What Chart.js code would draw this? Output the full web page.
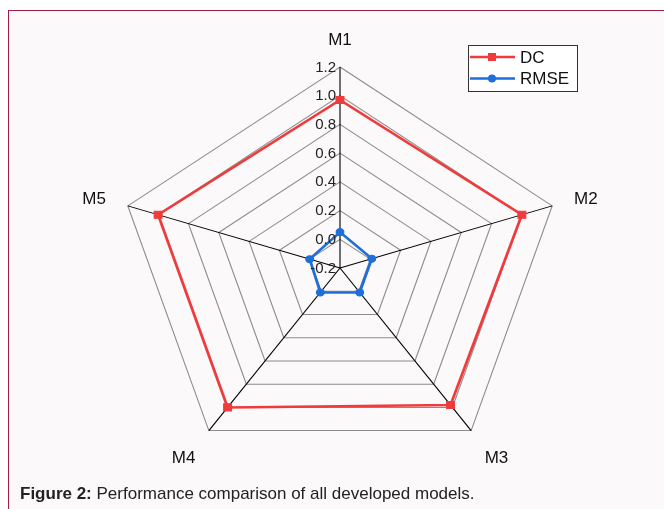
<!DOCTYPE html>
<html>
<head>
<meta charset="utf-8">
<script src="https://cdn.jsdelivr.net/npm/chart.js@4.4.0/dist/chart.umd.min.js"></script>
<style>
  html, body { margin: 0; padding: 0; background: #ffffff; }
  body { width: 664px; height: 509px; position: relative; overflow: hidden; font-family: "Liberation Sans", Arial, sans-serif; }
  #frame { position: absolute; left: 8px; top: 10px; width: 700px; height: 520px; background: #fbf9fa; border: 1.5px solid #a31d42; box-sizing: border-box; }
  #chartWrap { position: absolute; left: 0; top: 0; width: 664px; height: 509px; }
  #caption { position: absolute; left: 20px; top: 484px; font-size: 17px; color: #222; white-space: nowrap; }
</style>
</head>
<body>
<div id="frame"></div>
<div id="chartWrap"><canvas id="radarChart" width="664" height="509"></canvas></div>
<div id="caption"><b>Figure 2:</b> Performance comparison of all developed models.</div>
<script>
const models = ['M1', 'M2', 'M3', 'M4', 'M5'];
const dcValues = [0.97, 1.0, 0.98, 1.0, 1.0];
const rmseValues = [0.05, 0.01, 0.01, 0.01, 0.0];
const scaleMin = -0.2;
const scaleMax = 1.2;
const scaleStep = 0.2;

// the original plot is a bit wider than tall
const stretchX = 1.11;

const stretchPlugin = {
    id: 'stretch',
    beforeDraw(chart) {
        const s = chart.scales.r;
        const ctx = chart.ctx;
        ctx.save();
        ctx.translate(s.xCenter, 0);
        ctx.scale(stretchX, 1);
        ctx.translate(-s.xCenter, 0);
    },
    afterDatasetsDraw(chart) {
        chart.ctx.restore();
    },
    afterDraw(chart) {
        const s = chart.scales.r;
        const ctx = chart.ctx;
        const xc = s.xCenter, yc = s.yCenter, R = s.drawingArea;
        ctx.save();

        // tick labels, left of the M1 axis
        ctx.font = '15px "Liberation Sans", Arial, sans-serif';
        ctx.fillStyle = '#222';
        ctx.textAlign = 'right';
        ctx.textBaseline = 'middle';
        s.ticks.forEach(t => {
            const y = yc - s.getDistanceFromCenterForValue(t.value);
            const v = Math.abs(t.value) < 1e-9 ? 0 : t.value;
            ctx.fillText(v.toFixed(1), xc - 4, y + 0.5);
        });

        // point labels
        ctx.font = '17px "Liberation Sans", Arial, sans-serif';
        ctx.fillStyle = '#111';
        ctx.textAlign = 'center';
        models.forEach((m, i) => {
            const p = s.getPointPosition(i, R);
            const ux = (p.x - xc) / R, uy = (p.y - yc) / R;
            const hw = ctx.measureText(m).width / 2;
            const sx = xc + stretchX * (p.x - xc);
            const side = Math.abs(ux) > 0.1 ? Math.sign(ux) : 0;
            ctx.fillText(m, sx + ux * 23 + side * hw, p.y + uy * 30 + 3);
        });

        // legend box
        const lx = xc + 128, ly = 45, lw = 109, lh = 46;
        ctx.fillStyle = '#ffffff';
        ctx.fillRect(lx, ly, lw, lh);
        ctx.strokeStyle = '#333';
        ctx.lineWidth = 1;
        ctx.strokeRect(lx + 0.5, ly + 0.5, lw, lh);
        ctx.font = '17px "Liberation Sans", Arial, sans-serif';
        ctx.textAlign = 'left';
        chart.data.datasets.forEach((ds, i) => {
            const y = ly + 12 + i * 21.5;
            ctx.strokeStyle = ds.borderColor;
            ctx.lineWidth = 2.5;
            ctx.beginPath();
            ctx.moveTo(lx + 2, y);
            ctx.lineTo(lx + 47, y);
            ctx.stroke();
            ctx.fillStyle = ds.borderColor;
            ctx.beginPath();
            if (ds.pointStyle === 'rect') {
                ctx.rect(lx + 24 - 4, y - 4, 8, 8);
            } else {
                ctx.arc(lx + 24, y, 4, 0, Math.PI * 2);
            }
            ctx.fill();
            ctx.fillStyle = '#111';
            ctx.fillText(ds.label, lx + 52, y + 1);
        });
        ctx.restore();
    }
};

const ctx = document.getElementById('radarChart').getContext('2d');

new Chart(ctx, {
    type: 'radar',
    data: {
        labels: models,
        datasets: [{
            label: 'DC',
            data: dcValues,
            borderColor: '#ef3b3b',
            backgroundColor: '#ef3b3b',
            pointBackgroundColor: '#ef3b3b',
            pointBorderColor: '#ef3b3b',
            pointStyle: 'rect',
            pointRadius: 5,
            pointBorderWidth: 1,
            borderWidth: 2.5,
            fill: false
        }, {
            label: 'RMSE',
            data: rmseValues,
            borderColor: '#1f6fdb',
            backgroundColor: '#1f6fdb',
            pointBackgroundColor: '#1f6fdb',
            pointBorderColor: '#1f6fdb',
            pointStyle: 'circle',
            pointRadius: 3.5,
            pointBorderWidth: 1,
            borderWidth: 2.5,
            fill: false
        }]
    },
    options: {
        responsive: false,
        animation: false,
        layout: {
            padding: { left: 139, right: 123, top: 67, bottom: 40 }
        },
        scales: {
            r: {
                min: scaleMin,
                max: scaleMax,
                beginAtZero: false,
                ticks: { display: false, stepSize: scaleStep },
                pointLabels: { display: false },
                grid: { color: '#8c8c8c', lineWidth: 1 },
                angleLines: { color: '#000000', lineWidth: 1 }
            }
        },
        plugins: {
            legend: { display: false },
            tooltip: { enabled: false }
        }
    },
    plugins: [stretchPlugin]
});
</script>
</body>
</html>
